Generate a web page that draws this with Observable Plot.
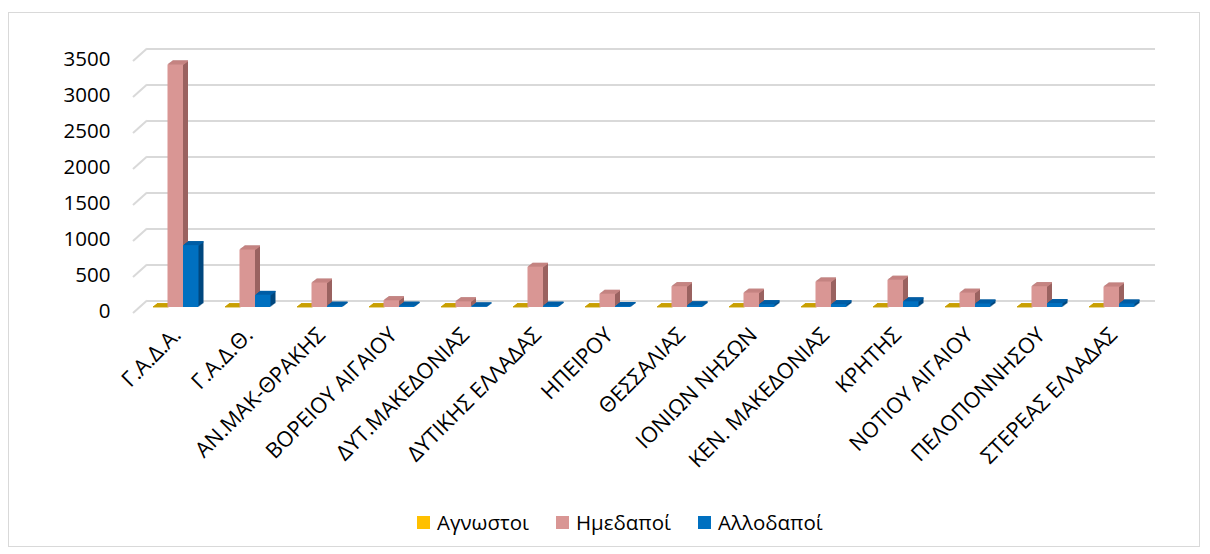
<!DOCTYPE html>
<html>
<head>
<meta charset="utf-8">
<script src="https://cdn.jsdelivr.net/npm/d3@7"></script>
<script src="https://cdn.jsdelivr.net/npm/@observablehq/plot@0.6"></script>
<style>
  body { margin: 0; background: #fff; font-family: "Open Sans", sans-serif; }
  #frame { position: absolute; left: 8px; top: 12px; width: 1192px; height: 535px; border: 1.5px solid #d9d9d9; box-sizing: border-box; }
  #chart { position: absolute; left: 0; top: 0; }
  #legend { position: absolute; left: 417px; top: 508px; display: flex; align-items: center; font-size: 20.5px; color: #000; white-space: nowrap; }
  #legend .item { display: flex; align-items: center; margin-right: 27px; }
  #legend .sw { width: 13px; height: 13px; margin-right: 7px; }
</style>
</head>
<body>
<div id="frame"></div>
<div id="chart"></div>
<div id="legend"></div>
<script>
// ---- data ----
const regions = ["Γ.Α.Δ.Α.", "Γ.Α.Δ.Θ.", "ΑΝ.ΜΑΚ-ΘΡΑΚΗΣ", "ΒΟΡΕΙΟΥ ΑΙΓΑΙΟΥ", "ΔΥΤ.ΜΑΚΕΔΟΝΙΑΣ", "ΔΥΤΙΚΗΣ ΕΛΛΑΔΑΣ", "ΗΠΕΙΡΟΥ", "ΘΕΣΣΑΛΙΑΣ", "ΙΟΝΙΩΝ ΝΗΣΩΝ", "ΚΕΝ. ΜΑΚΕΔΟΝΙΑΣ", "ΚΡΗΤΗΣ", "ΝΟΤΙΟΥ ΑΙΓΑΙΟΥ", "ΠΕΛΟΠΟΝΝΗΣΟΥ", "ΣΤΕΡΕΑΣ ΕΛΛΑΔΑΣ"];
const seriesNames = ["Αγνωστοι", "Ημεδαποί", "Αλλοδαποί"];
const agnostoi  = [0, 0, 0, 0, 0, 0, 0, 0, 0, 0, 0, 0, 0, 0];
const imedapoi  = [3370, 800, 340, 95, 80, 560, 185, 290, 200, 355, 380, 200, 290, 285];
const allodapoi = [860, 170, 20, 20, 10, 20, 15, 25, 40, 40, 80, 50, 55, 50];
const yTicks = [0, 500, 1000, 1500, 2000, 2500, 3000, 3500];

// ---- styles ----
const front = ["#FFC000", "#D99694", "#0070C0"];
const topC  = ["#C9A000", "#C58482", "#005EA6"];
const side  = ["#A88000", "#9A6260", "#00477E"];

const values = [agnostoi, imedapoi, allodapoi];
const table = [];
seriesNames.forEach((s, i) => regions.forEach((r, j) => table.push({region: r, series: s, si: i, value: values[i][j]})));

const W = 1210, H = 492;
const mL = 139, mR = 63, mT = 55, mB = H - 307;
const band = (W - mL - mR) / regions.length;
const bw = 15.5, pad = 13;
const depth = 5;

const marks = [];
// back-wall gridlines
marks.push(Plot.ruleY(yTicks, {dx: 8, dy: -6.5, stroke: "#d9d9d9", strokeWidth: 2}));
// slanted side-wall ticks
marks.push((index, scales) => {
  const g = d3.create("svg:g");
  g.selectAll("line").data(yTicks).join("line")
    .attr("x1", mL - 6).attr("y1", d => scales.y(d) + 6)
    .attr("x2", mL + 8).attr("y2", d => scales.y(d) - 6.5)
    .attr("stroke", "#d9d9d9").attr("stroke-width", 2);
  return g.node();
});
seriesNames.forEach((s, i) => {
  const d = table.filter(t => t.si === i);
  const insetLeft = pad + i * bw;
  const insetRight = band - pad - (i + 1) * bw;
  for (let k = 1; k <= depth; k++) {
    marks.push(Plot.barY(d, {x: "region", y: "value", fill: side[i], insetLeft, insetRight, dx: k, dy: -0.75 * k}));
  }
  for (let k = 1; k <= depth; k++) {
    marks.push(Plot.tickY(d, {x: "region", y: "value", stroke: topC[i], strokeWidth: 1.4, insetLeft, insetRight, dx: k, dy: -0.75 * k}));
  }
  marks.push(Plot.barY(d, {x: "region", y: "value", fill: front[i], insetLeft, insetRight}));
});
marks.push(Plot.axisY(yTicks, {tickSize: 0, tickPadding: 29, dy: 4, fontSize: 20.5, fill: "#000", tickFormat: d => String(d)}));
marks.push(Plot.axisX({tickSize: 0, tickRotate: -45, tickPadding: 8, fontSize: 21.5, fill: "#000", dx: 2, dy: 16}));

const plot = Plot.plot({
  width: W, height: H,
  marginLeft: mL, marginRight: mR, marginTop: mT, marginBottom: mB,
  style: {fontFamily: "Open Sans", background: "transparent", overflow: "visible"},
  x: {domain: regions, padding: 0, label: null},
  y: {domain: [0, 3500], label: null},
  marks
});
document.getElementById("chart").append(plot);

const legend = document.getElementById("legend");
seriesNames.forEach((s, i) => {
  const it = document.createElement("div");
  it.className = "item";
  it.innerHTML = `<div class="sw" style="background:${front[i]}"></div><span>${s}</span>`;
  legend.append(it);
});
</script>
</body>
</html>
